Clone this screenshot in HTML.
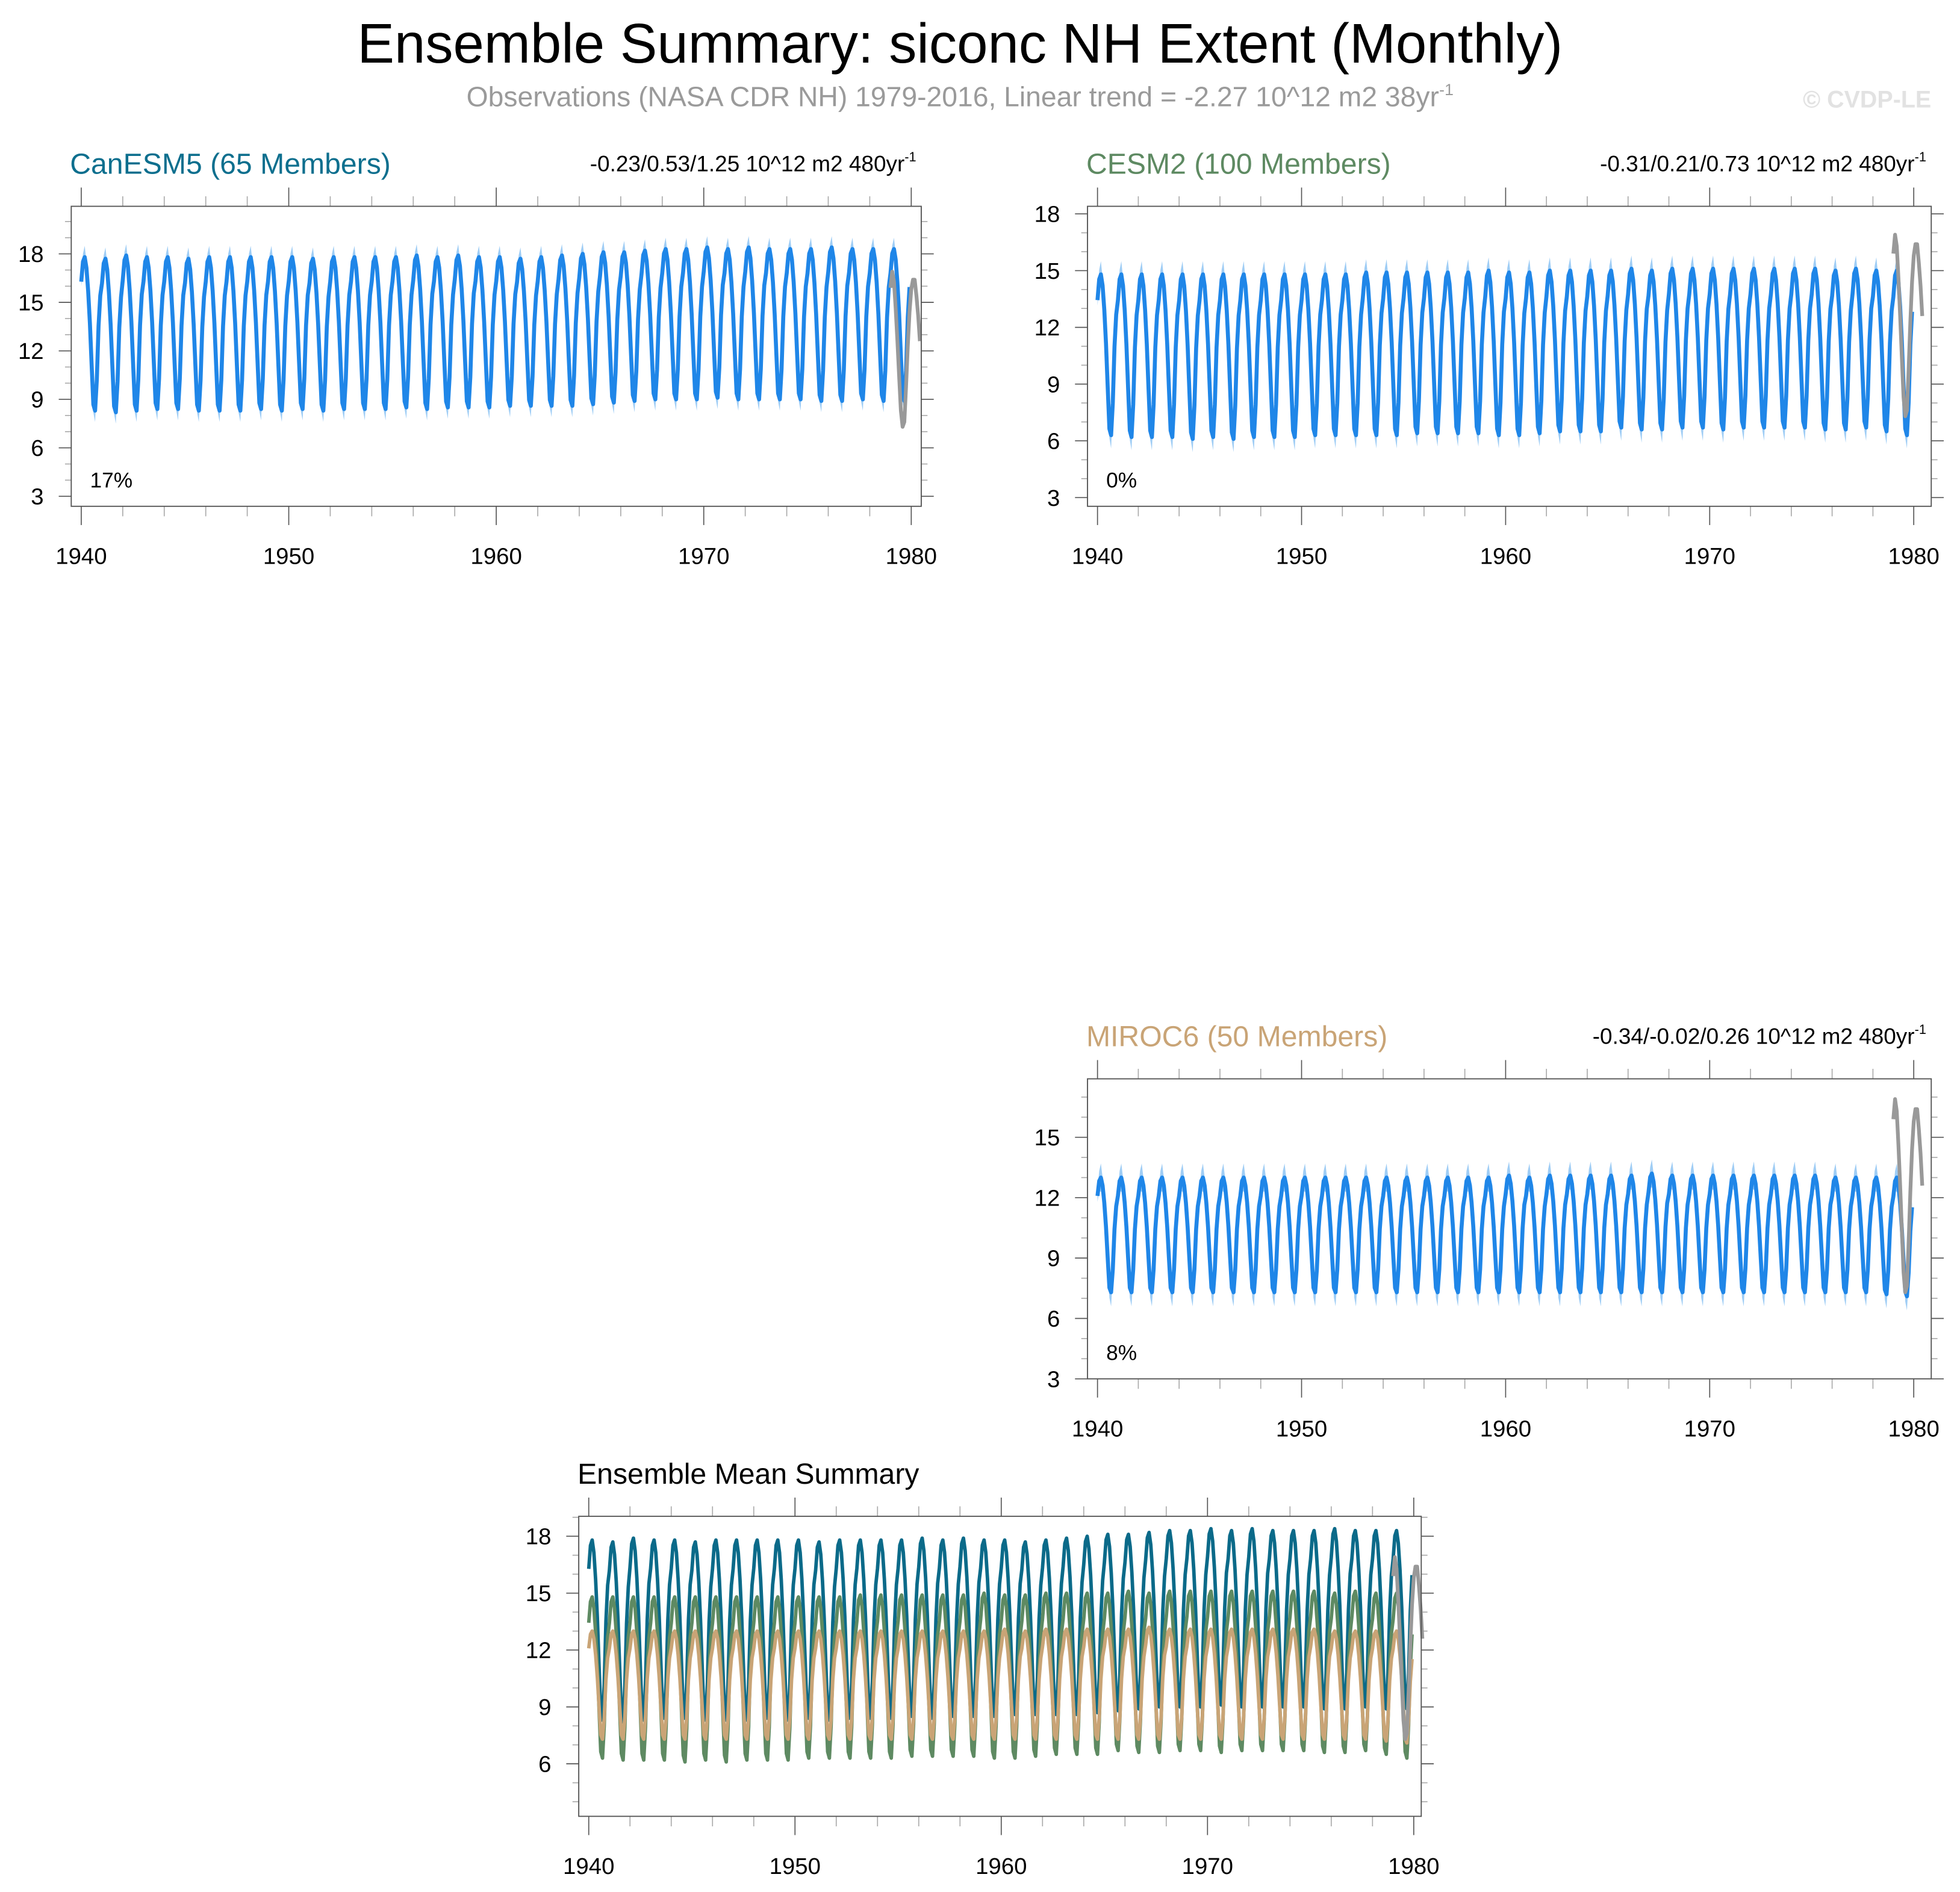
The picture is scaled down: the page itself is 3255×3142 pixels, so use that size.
<!DOCTYPE html>
<html><head><meta charset="utf-8">
<style>
html,body{margin:0;padding:0;background:#fff;}
svg{display:block;font-family:"Liberation Sans",sans-serif;}
</style></head>
<body>
<svg id="chart" xmlns="http://www.w3.org/2000/svg" width="3255" height="3142" viewBox="0 0 1568 1513.5">
<rect x="0" y="0" width="1568" height="1513.5" fill="#fff"/>
<text x="768" y="50" text-anchor="middle" font-size="44.5" fill="#000">Ensemble Summary: siconc NH Extent (Monthly)</text>
<text x="768" y="85" text-anchor="middle" font-size="22.3" fill="#9a9a9a">Observations (NASA CDR NH) 1979-2016, Linear trend = -2.27 10^12 m2 38yr<tspan font-size="13" dy="-9">-1</tspan></text>
<text x="1545" y="86" text-anchor="end" font-size="19" font-weight="bold" fill="#e2e2e2">© CVDP-LE</text>
<g id="plots"></g>
</svg>
<script>
// Seasonal shape (Jan..Dec), 1 = annual max, 0 = annual min
const seasonShape = [0.84,0.97,1.0,0.93,0.78,0.57,0.30,0.04,0.0,0.20,0.55,0.75];
const spreadShape = [0.3,0.5,0.7,0.4,0.3,0.3,0.3,0.5,0.7,0.4,0.3,0.3];
const years = [1940,1941,1942,1943,1944,1945,1946,1947,1948,1949,1950,1951,1952,1953,1954,1955,1956,1957,1958,1959,1960,1961,1962,1963,1964,1965,1966,1967,1968,1969,1970,1971,1972,1973,1974,1975,1976,1977,1978,1979];
const canMax = [17.8,17.7,17.9,17.8,17.8,17.7,17.8,17.8,17.8,17.8,17.8,17.7,17.8,17.8,17.8,17.8,17.9,17.8,17.9,17.8,17.8,17.7,17.8,17.9,18.0,18.1,18.1,18.2,18.3,18.3,18.4,18.3,18.4,18.3,18.3,18.3,18.4,18.3,18.3,18.3];
const canMin = [8.3,8.2,8.3,8.4,8.4,8.3,8.3,8.3,8.4,8.3,8.4,8.3,8.4,8.4,8.4,8.5,8.4,8.5,8.5,8.5,8.6,8.6,8.6,8.6,8.7,8.8,8.9,9.0,9.0,9.0,9.1,9.0,9.0,9.0,9.0,8.9,8.9,9.0,8.9,8.9];
const cesmMax = [14.8,14.8,14.8,14.8,14.8,14.8,14.8,14.8,14.8,14.8,14.8,14.8,14.8,14.9,14.9,14.9,14.9,14.9,14.9,15.0,14.9,14.9,15.0,15.0,15.0,15.0,15.1,15.0,15.1,15.1,15.1,15.1,15.1,15.1,15.1,15.1,15.0,15.1,15.0,15.0];
const cesmMin = [6.3,6.2,6.2,6.2,6.1,6.2,6.1,6.2,6.2,6.2,6.3,6.3,6.3,6.3,6.3,6.4,6.4,6.4,6.4,6.3,6.3,6.4,6.5,6.5,6.5,6.7,6.6,6.6,6.7,6.7,6.6,6.7,6.7,6.7,6.7,6.6,6.6,6.7,6.5,6.3];
const mirocMax = [13.0,13.0,13.0,13.0,13.0,13.0,13.0,13.0,13.0,13.0,13.0,13.0,13.0,13.0,13.0,13.0,13.0,13.0,13.0,13.0,13.1,13.0,13.1,13.1,13.1,13.1,13.1,13.2,13.1,13.1,13.1,13.1,13.1,13.1,13.1,13.1,13.0,13.0,13.0,13.0];
const mirocMin = [7.3,7.3,7.3,7.3,7.3,7.3,7.3,7.3,7.3,7.3,7.3,7.3,7.3,7.3,7.3,7.3,7.3,7.3,7.3,7.3,7.3,7.3,7.3,7.3,7.3,7.3,7.3,7.3,7.3,7.3,7.3,7.3,7.3,7.3,7.3,7.3,7.3,7.3,7.2,7.1];
const obsStart = 1979.0;
const obsValues = [15.9,16.9,16.3,14.6,12.6,10.4,8.3,7.3,7.6,9.8,12.3,14.4,15.8,16.4,16.4,15.4,14.2,12.6];
const xTicks = [1940,1950,1960,1970,1980];

const NS = "http://www.w3.org/2000/svg";
const root = document.getElementById('plots');
function mk(tag, attrs, parent){ const e=document.createElementNS(NS,tag); for(const k in attrs) e.setAttribute(k,attrs[k]); (parent||root).appendChild(e); return e; }

function series(maxA, minA){
  const pts=[];
  years.forEach((y,i)=>{ for(let m=0;m<12;m++){ const v=minA[i]+seasonShape[m]*(maxA[i]-minA[i]); pts.push([y+m/12, v, spreadShape[m]]); } });
  return pts;
}

function panel(cfg){
  const g=mk('g',{});
  
  
  const x0=cfg.x0,x1=cfg.x1,y0=cfg.y0,y1=cfg.y1;
  const X=t=>cfg.px40+(t-1940)*(cfg.px80-cfg.px40)/40;
  const Y=v=>cfg.yZero-v*cfg.yUnit;
  const tk=mk('g',{stroke:'#666','stroke-width':'0.8'},g);
  
  
  for(let yr=1940;yr<=1980;yr+=2){
    const maj=yr%10===0, xx=X(yr), L=maj?15:8;
    mk('line',{x1:xx,x2:xx,y1:y0,y2:y0-L,stroke:maj?'#555':'#aaa'},tk);
    mk('line',{x1:xx,x2:xx,y1:y1,y2:y1+L,stroke:maj?'#555':'#aaa'},tk);
  }
  const vLo=Math.ceil((cfg.yZero-y1)/cfg.yUnit), vHi=Math.floor((cfg.yZero-y0)/cfg.yUnit);
  for(let v=vLo;v<=vHi;v++){
    const maj=v%3===0, yy=Y(v), L=maj?10:5;
    mk('line',{x1:x0,x2:x0-L,y1:yy,y2:yy,stroke:maj?'#555':'#aaa'},tk);
    mk('line',{x1:x1,x2:x1+L,y1:yy,y2:yy,stroke:maj?'#555':'#aaa'},tk);
    if(maj && cfg.yLabels.includes(v)){
      const t=mk('text',{x:x0-22,y:yy+6.5,'text-anchor':'end','font-size':'18.5',fill:'#000',stroke:'none'},g);
      
      
      t.textContent=v;
    }
  }
  xTicks.forEach(yr=>{
    const t=mk('text',{x:X(yr),y:y1+46,'text-anchor':'middle','font-size':'18.5',fill:'#000'},g);
    
    
    t.textContent=yr;
  });
  const cid='clip-'+cfg.name;
  const cp=mk('clipPath',{id:cid},g); mk('rect',{x:x0,y:y0-20,width:x1-x0+8,height:y1-y0+20},cp);
  const dg=mk('g',{'clip-path':'url(#'+cid+')'},g);
  cfg.lines.forEach(L=>{
    const pts=series(L.max,L.min);
    if(L.band){
      const up=pts.map(p=>X(p[0]).toFixed(2)+','+Y(p[1]+p[2]).toFixed(2));
      const dn=pts.slice().reverse().map(p=>X(p[0]).toFixed(2)+','+Y(p[1]-p[2]).toFixed(2));
      const b=mk('polygon',{points:up.concat(dn).join(' '),fill:'#9fcdf5',stroke:'none'},dg);
      
      
    }
    const pl=mk('polyline',{points:pts.map(p=>X(p[0]).toFixed(2)+','+Y(p[1]).toFixed(2)).join(' '),fill:'none',stroke:L.color,'stroke-width':L.w,'stroke-linejoin':'round'},dg);
    
    
  });
  const ob=mk('polyline',{points:obsValues.map((v,i)=>X(obsStart+i/12).toFixed(2)+','+Y(v).toFixed(2)).join(' '),fill:'none',stroke:'#999','stroke-width':'3','stroke-linejoin':'round'},dg);
  
  
  const fr=mk('rect',{x:x0,y:y0,width:x1-x0,height:y1-y0,fill:'none',stroke:'#555','stroke-width':'0.9'},g);
  
  
  const ti=mk('text',{x:x0-1,y:y0-26,'font-size':'23.2',fill:cfg.tColor},g);
  
  
  ti.textContent=cfg.title;
  if(cfg.trend){
    const tr=mk('text',{x:x1-4,y:y0-28,'text-anchor':'end','font-size':'17.8',fill:'#000'},g);
    
    
    tr.textContent=cfg.trend;
    const sp=mk('tspan',{'font-size':'10.5',dy:'-8'},tr); sp.textContent='-1';
  }
  if(cfg.pct){
    const pc=mk('text',{x:x0+15,y:y1-15,'font-size':'17',fill:'#000'},g);
    
    
    pc.textContent=cfg.pct;
  }
}

panel({name:'canesm5-panel',x0:57,x1:737,y0:165,y1:405,px40:65,px80:729,yZero:435.8,yUnit:12.93,yLabels:[3,6,9,12,15,18],
  title:'CanESM5 (65 Members)',tColor:'#0d6f8e',trend:'-0.23/0.53/1.25 10^12 m2 480yr',pct:'17%',
  lines:[{max:canMax,min:canMin,color:'#1f86e8',w:3.2,band:true,label:'canesm5-ensemble-mean'}]});
panel({name:'cesm2-panel',x0:870,x1:1545,y0:165,y1:405,px40:878,px80:1531,yZero:443.4,yUnit:15.13,yLabels:[3,6,9,12,15,18],
  title:'CESM2 (100 Members)',tColor:'#5e8a62',trend:'-0.31/0.21/0.73 10^12 m2 480yr',pct:'0%',
  lines:[{max:cesmMax,min:cesmMin,color:'#1f86e8',w:3.2,band:true,label:'cesm2-ensemble-mean'}]});
panel({name:'miroc6-panel',x0:870,x1:1545,y0:863,y1:1103,px40:878,px80:1531,yZero:1151.3,yUnit:16.1,yLabels:[3,6,9,12,15],
  title:'MIROC6 (50 Members)',tColor:'#c9a476',trend:'-0.34/-0.02/0.26 10^12 m2 480yr',pct:'8%',
  lines:[{max:mirocMax,min:mirocMin,color:'#1f86e8',w:3.2,band:true,label:'miroc6-ensemble-mean'}]});
panel({name:'ensemble-mean-panel',x0:463,x1:1137,y0:1213,y1:1453,px40:471,px80:1131,yZero:1502,yUnit:15.17,yLabels:[6,9,12,15,18],
  title:'Ensemble Mean Summary',tColor:'#000',
  lines:[{max:canMax,min:canMin,color:'#0b6a89',w:2.8,label:'canesm5-mean-line'},
         {max:cesmMax,min:cesmMin,color:'#5e8a62',w:2.8,label:'cesm2-mean-line'},
         {max:mirocMax,min:mirocMin,color:'#c9a476',w:2.8,label:'miroc6-mean-line'}]});
</script>
</body></html>
